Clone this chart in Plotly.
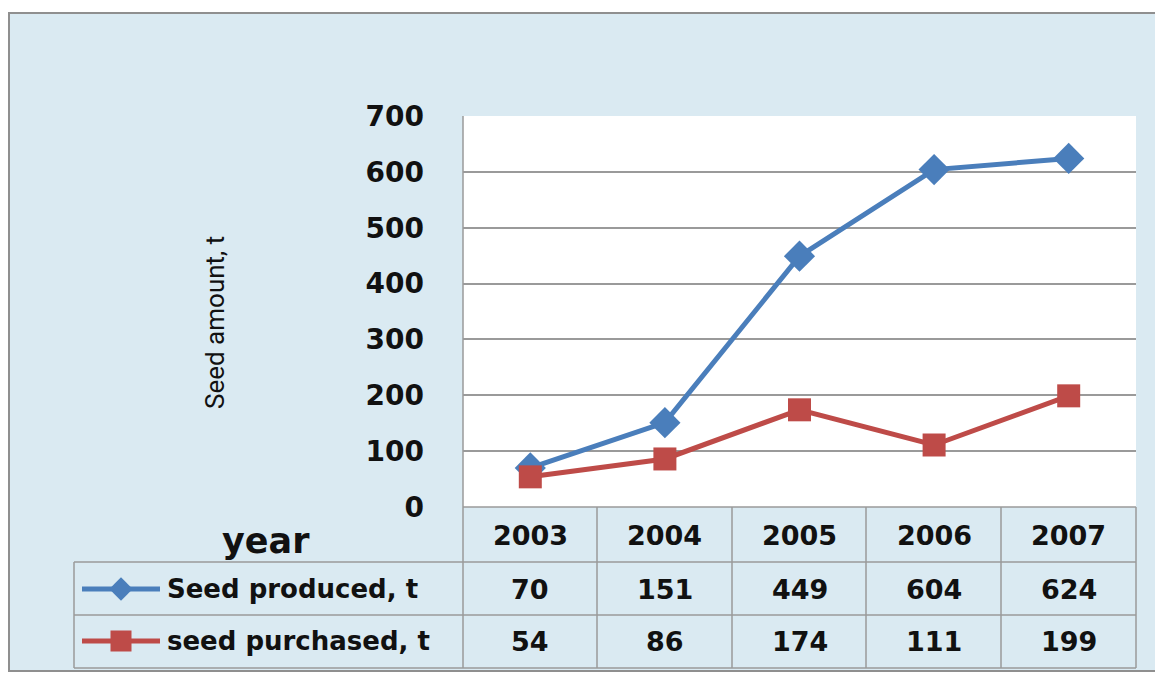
import plotly.graph_objects as go

years = ["2003", "2004", "2005", "2006", "2007"]
produced = [70, 151, 449, 604, 624]
purchased = [54, 86, 174, 111, 199]
series_names = ["Seed produced, t", "seed purchased, t"]
y_ticks = [0, 100, 200, 300, 400, 500, 600, 700]

W, H = 1163, 677
OFF = 8  # page body margin
BG = "#DAEAF2"
GRID = "#9A9A9A"
BLUE = "#4A7EBB"
RED = "#BE4B48"
FONT = "DejaVu Sans"
INK = "#111111"


def px(x):
    return (x - OFF) / W


def py(y):
    return 1 - (y - OFF) / H


fig = go.Figure()

fig.add_trace(go.Scatter(
    x=years, y=produced, mode="lines+markers", name=series_names[0],
    line=dict(color=BLUE, width=5),
    marker=dict(symbol="diamond", size=24, color=BLUE),
))
fig.add_trace(go.Scatter(
    x=years, y=purchased, mode="lines+markers", name=series_names[1],
    line=dict(color=RED, width=5),
    marker=dict(symbol="square", size=23, color=RED),
))

# legend keys inside the data table (helper axis in pixel units)
key_y = [589, 641]
for color, sym, size, ky in [
    (BLUE, "diamond", 18, key_y[0]),
    (RED, "square", 21, key_y[1]),
]:
    fig.add_trace(go.Scatter(
        x=[82, 121, 160], y=[ky, ky, ky], mode="lines",
        line=dict(color=color, width=5), xaxis="x2", yaxis="y2",
        showlegend=False, hoverinfo="skip",
    ))
    fig.add_trace(go.Scatter(
        x=[121], y=[ky], mode="markers",
        marker=dict(symbol=sym, size=size, color=color),
        xaxis="x2", yaxis="y2", showlegend=False, hoverinfo="skip",
    ))

shapes = []
# chart area background with border
shapes.append(dict(type="rect", xref="paper", yref="paper",
                   x0=px(9), x1=px(1185), y0=py(671), y1=py(13),
                   fillcolor=BG, line=dict(color="#8F8F8F", width=2), layer="below"))
# plot area
shapes.append(dict(type="rect", xref="paper", yref="paper",
                   x0=px(463), x1=px(1136), y0=py(507), y1=py(116),
                   fillcolor="white", line=dict(width=0), layer="below"))

# table lines
line = dict(color=GRID, width=1.5)
for yy, x0 in [(507, 463), (562, 74), (615, 74), (668, 74)]:
    shapes.append(dict(type="line", xref="paper", yref="paper",
                       x0=px(x0), x1=px(1136), y0=py(yy), y1=py(yy), line=line))
shapes.append(dict(type="line", xref="paper", yref="paper",
                   x0=px(74), x1=px(74), y0=py(562), y1=py(668), line=line))
shapes.append(dict(type="line", xref="paper", yref="paper",
                   x0=px(463), x1=px(463), y0=py(116), y1=py(668), line=line))
for xx in [597, 732, 866, 1001, 1136]:
    shapes.append(dict(type="line", xref="paper", yref="paper",
                       x0=px(xx), x1=px(xx), y0=py(507), y1=py(668), line=line))

annotations = []
txt_font = dict(family=FONT, size=27, color=INK)
rows = [(535, years), (589, produced), (641, purchased)]
for yy, vals in rows:
    for i, v in enumerate(vals):
        annotations.append(dict(x=i, xref="x", y=py(yy), yref="paper", text=f"<b>{v}</b>",
                                xanchor="center", yanchor="middle",
                                showarrow=False, font=txt_font))
for ky, name in zip(key_y, series_names):
    annotations.append(dict(x=px(165), y=py(ky), xref="paper", yref="paper",
                            xanchor="left", yanchor="middle",
                            text=f"<b>{name}</b>", showarrow=False,
                            font=dict(family=FONT, size=26, color=INK)))
annotations.append(dict(x=px(266), y=py(541), xref="paper", yref="paper",
                        xanchor="center", yanchor="middle",
                        text="<b>year</b>", showarrow=False,
                        font=dict(family=FONT, size=35, color=INK)))
annotations.append(dict(x=px(215), y=py(323), xref="paper", yref="paper",
                        xanchor="center", yanchor="middle",
                        text="Seed amount, t", textangle=-90, showarrow=False,
                        font=dict(family="Roboto", size=26, color=INK)))

fig.update_layout(
    width=W, height=H,
    margin=dict(l=0, r=0, t=0, b=0, pad=0),
    paper_bgcolor="white",
    plot_bgcolor="rgba(0,0,0,0)",
    showlegend=False,
    shapes=shapes,
    annotations=annotations,
    xaxis=dict(domain=[px(463), px(1136)], type="category", range=[-0.5, 4.5],
               showticklabels=False, showgrid=False, zeroline=False, showline=False,
               automargin=False),
    yaxis=dict(domain=[py(507), py(116)], range=[0, 700], tickvals=y_ticks,
               ticktext=[f"<b>{v}</b>" for v in y_ticks],
               tickfont=dict(family=FONT, size=28, color=INK),
               showgrid=True, gridcolor=GRID, gridwidth=1.5, zeroline=False,
               showline=False, ticks="", ticklabelstandoff=38, automargin=False),
    xaxis2=dict(domain=[0, 1], range=[OFF, W + OFF], visible=False, anchor="y2"),
    yaxis2=dict(domain=[0, 1], range=[H + OFF, OFF], visible=False, anchor="x2"),
)

fig.write_html("out.html")
